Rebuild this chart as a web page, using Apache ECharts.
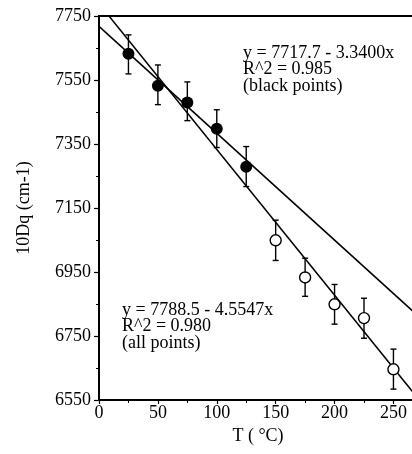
<!DOCTYPE html>
<html>
<head>
<meta charset="utf-8">
<script src="https://cdn.jsdelivr.net/npm/echarts@6/dist/echarts.min.js"></script>
<style>
  html, body { margin: 0; padding: 0; background: #fff; }
  #chart { width: 412px; height: 454px; }
</style>
</head>
<body>
<div id="chart"></div>
<script>
// temperatures (°C) and 10Dq values
var blackX = [25, 50, 75, 100, 125];
var blackY = [7632, 7532, 7480, 7398, 7279];
var blackLow = [7569, 7473, 7423, 7339, 7217];
var blackHigh = [7691, 7597, 7544, 7457, 7342];

var openX = [150, 175, 200, 225, 250];
var openY = [7049, 6933, 6849, 6806, 6646];
var openLow = [6986, 6874, 6787, 6743, 6584];
var openHigh = [7112, 6993, 6911, 6868, 6709];

// fit lines, end points
var fitBlack = [[0, 7717.7], [270, 6815.9]];
var fitAll = [[0, 7788.5], [270, 6558.7]];

var textBlack = ['y = 7717.7 - 3.3400x', 'R^2 = 0.985', '(black points)'];
var textAll = ['y = 7788.5 - 4.5547x', 'R^2 = 0.980', '(all points)'];

var font = '"Liberation Serif", "Times New Roman", serif';

function pairs(xs, ys) {
  return xs.map(function (x, i) { return [x, ys[i]]; });
}
function bars(xs, lo, hi) {
  return xs.map(function (x, i) { return [x, lo[i], hi[i]]; });
}

// error bar with small caps
function errorBar(params, api) {
  var p1 = api.coord([api.value(0), api.value(1)]);
  var p2 = api.coord([api.value(0), api.value(2)]);
  var w = 3;
  var st = { stroke: '#000', lineWidth: 1.4 };
  return {
    type: 'group',
    children: [
      { type: 'line', shape: { x1: p1[0], y1: p1[1], x2: p2[0], y2: p2[1] }, style: st },
      { type: 'line', shape: { x1: p1[0] - w, y1: p1[1], x2: p1[0] + w, y2: p1[1] }, style: st },
      { type: 'line', shape: { x1: p2[0] - w, y1: p2[1], x2: p2[0] + w, y2: p2[1] }, style: st }
    ]
  };
}

var myChart = echarts.init(document.getElementById('chart'));

var option = {
  animation: false,
  backgroundColor: '#fff',
  grid: {
    left: 99, top: 16, right: -5, bottom: 54,
    outerBoundsMode: 'none',
    containLabel: false,
    show: true, borderColor: '#000', borderWidth: 1.8,
    backgroundColor: 'transparent'
  },
  xAxis: {
    type: 'value',
    min: 0, max: 270, interval: 50,
    name: 'T ( °C)',
    nameLocation: 'middle',
    nameGap: 21,
    nameTextStyle: { fontFamily: font, fontSize: 18, color: '#000' },
    axisLine: { show: true, lineStyle: { color: '#000', width: 2 } },
    axisTick: { show: true, length: 4, lineStyle: { color: '#000', width: 1.2 } },
    minorTick: { show: true, splitNumber: 2, length: 3, lineStyle: { color: '#000', width: 1 } },
    axisLabel: { fontFamily: font, fontSize: 18, color: '#000', margin: 4, showMaxLabel: false },
    splitLine: { show: false }
  },
  yAxis: {
    type: 'value',
    min: 6550, max: 7750, interval: 200,
    name: '10Dq (cm-1)',
    nameLocation: 'middle',
    nameGap: 66,
    nameRotate: 90,
    nameTextStyle: { fontFamily: font, fontSize: 18, color: '#000' },
    axisLine: { show: true, lineStyle: { color: '#000', width: 2 } },
    axisTick: { show: true, length: 5, lineStyle: { color: '#000', width: 1.2 } },
    minorTick: { show: true, splitNumber: 2, length: 3, lineStyle: { color: '#000', width: 1 } },
    axisLabel: {
      fontFamily: font, fontSize: 18, color: '#000', margin: 8,
      formatter: function (v) { return String(v); }
    },
    splitLine: { show: false }
  },
  graphic: [
    {
      type: 'text', left: 243, top: 44,
      style: { text: textBlack.join('\n'), font: '18px ' + font, fill: '#000', lineHeight: 16.5 }
    },
    {
      type: 'text', left: 122, top: 301,
      style: { text: textAll.join('\n'), font: '18px ' + font, fill: '#000', lineHeight: 16.5 }
    }
  ],
  series: [
    {
      type: 'line', data: fitAll, symbol: 'none', clip: true,
      lineStyle: { color: '#000', width: 1.5 }
    },
    {
      type: 'line', data: fitBlack, symbol: 'none', clip: true,
      lineStyle: { color: '#000', width: 1.5 }
    },
    {
      type: 'custom', renderItem: errorBar, data: bars(blackX, blackLow, blackHigh), z: 3
    },
    {
      type: 'custom', renderItem: errorBar, data: bars(openX, openLow, openHigh), z: 3
    },
    {
      type: 'scatter', data: pairs(blackX, blackY), symbol: 'circle', symbolSize: 12,
      itemStyle: { color: '#000', opacity: 1 }, z: 4
    },
    {
      type: 'scatter', data: pairs(openX, openY), symbol: 'circle', symbolSize: 11,
      itemStyle: { color: '#fff', borderColor: '#000', borderWidth: 1.4, opacity: 1 }, z: 4
    }
  ]
};

myChart.setOption(option);
</script>
</body>
</html>
